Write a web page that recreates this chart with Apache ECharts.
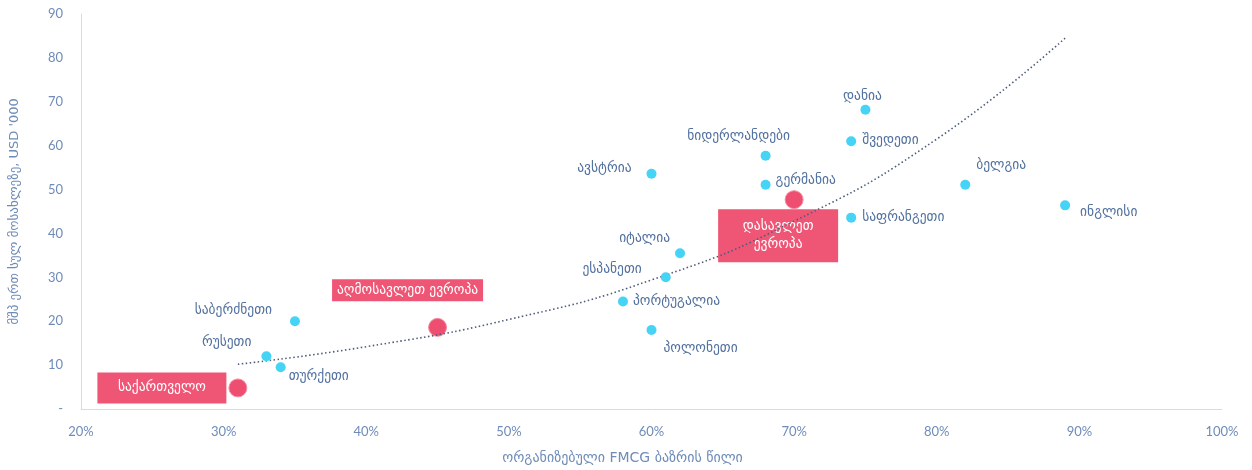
<!DOCTYPE html>
<html>
<head>
<meta charset="utf-8">
<script src="https://cdn.jsdelivr.net/npm/echarts@6/dist/echarts.min.js"></script>
<style>
  html, body { margin: 0; padding: 0; background: #fff; }
  #main { width: 1252px; height: 470px; }
</style>
</head>
<body>
<div id="main"></div>
<script>
// ქვეყნები (ცისფერი წერტილები)
const countryNames = ['დანია', 'შვედეთი', 'ნიდერლანდები', 'ავსტრია', 'გერმანია', 'ბელგია', 'საფრანგეთი',
  'ინგლისი', 'იტალია', 'ესპანეთი', 'პორტუგალია', 'პოლონეთი', 'საბერძნეთი', 'რუსეთი', 'თურქეთი'];
const countryShare = [75, 74, 68, 60, 68, 82, 74, 89, 62, 61, 58, 60, 35, 33, 34];
const countryGdp = [68.2, 61, 57.7, 53.6, 51.1, 51.1, 43.6, 46.4, 35.5, 30, 24.5, 18, 20, 12, 9.5];

// რეგიონები (წითელი წერტილები)
const regionNames = ['საქართველო', 'აღმოსავლეთ ევროპა', 'დასავლეთ ევროპა'];
const regionShare = [31, 45, 70];
const regionGdp = [4.8, 18.6, 47.7];

// ტრენდის ხაზი (სურათიდან წაკითხული წერტილები)
const trendShare = [31, 40, 50, 60, 70, 80, 89];
const trendGdp = [10.2, 14.2, 20.4, 29.4, 42.8, 61.5, 84.5];

const xTicks = [20, 30, 40, 50, 60, 70, 80, 90, 100];

const labelColor = '#52719f';
const axisColor = '#6f8cb8';
const boxColor = '#ef5575';
const textFont = 'DejaVu Sans';

// ლეიბლების განლაგება [align, dx, dy]
const countryLabelPlace = {
  'დანია': ['center', -3, -13],
  'შვედეთი': ['left', 11, -1],
  'ნიდერლანდები': ['center', -27, -19],
  'ავსტრია': ['right', -20, -5],
  'გერმანია': ['left', 10, -4],
  'ბელგია': ['left', 11, -19],
  'საფრანგეთი': ['left', 11, 0],
  'ინგლისი': ['left', 15, 7],
  'იტალია': ['right', -10, -15],
  'ესპანეთი': ['right', -24, -8],
  'პორტუგალია': ['left', 10, 0],
  'პოლონეთი': ['left', 12, 18],
  'საბერძნეთი': ['right', -23, -11],
  'რუსეთი': ['right', -15, -14],
  'თურქეთი': ['left', 8, 9]
};

// წითელი ყუთები [dx, dy, width, height, text]
const regionBox = {
  'საქართველო': [-76, 0, 129, 31, 'საქართველო'],
  'აღმოსავლეთ ევროპა': [-30, -37, 151, 22, 'აღმოსავლეთ ევროპა'],
  'დასავლეთ ევროპა': [-16, 36, 120, 53, 'დასავლეთ\nევროპა']
};

const countryData = countryNames.map((name, i) => {
  const p = countryLabelPlace[name];
  return {
    name: name,
    value: [countryShare[i], countryGdp[i]],
    label: {
      show: true,
      position: 'inside',
      align: p[0],
      verticalAlign: 'middle',
      offset: [p[1], p[2]],
      formatter: '{b}',
      color: labelColor,
      fontSize: 13.5,
      fontFamily: textFont
    }
  };
});

const regionData = regionNames.map((name, i) => {
  const b = regionBox[name];
  const lines = b[4].split('\n').length;
  const lh = lines > 1 ? 18 : b[3];
  const padV = (b[3] - lh * lines) / 2;
  return {
    name: name,
    value: [regionShare[i], regionGdp[i]],
    label: {
      show: true,
      position: 'inside',
      align: 'center',
      verticalAlign: 'middle',
      offset: [b[0], b[1]],
      formatter: () => b[4],
      color: '#fff',
      fontSize: 13.5,
      fontFamily: textFont,
      backgroundColor: boxColor,
      width: b[2],
      lineHeight: lh,
      padding: [padV, 0, padV, 0]
    }
  };
});

const chart = echarts.init(document.getElementById('main'), null, { renderer: 'canvas' });

const option = {
  animation: false,
  grid: {
    left: 81,
    right: 30,
    top: 14,
    bottom: 60
  },
  xAxis: {
    type: 'value',
    min: 20,
    max: 100,
    interval: 10,
    name: 'ორგანიზებული FMCG ბაზრის წილი',
    nameLocation: 'middle',
    nameGap: 42,
    nameTextStyle: {
      color: axisColor,
      fontSize: 14,
      fontFamily: textFont,
      padding: [0, 58, 0, 0]
    },
    axisLine: { show: true, lineStyle: { color: '#d3dde9', width: 1 } },
    axisTick: { show: false },
    splitLine: { show: false },
    axisLabel: {
      color: axisColor,
      fontSize: 13,
      fontFamily: 'Lato',
      margin: 16,
      formatter: v => xTicks.includes(v) ? v + '%' : ''
    }
  },
  yAxis: {
    type: 'value',
    min: 0,
    max: 90,
    interval: 10,
    name: "მშპ ერთ სულ მოსახლეზე, USD '000",
    nameLocation: 'middle',
    nameGap: 60,
    nameTextStyle: {
      color: axisColor,
      fontSize: 13,
      fontFamily: textFont
    },
    axisLine: { show: true, lineStyle: { color: '#d3dde9', width: 1 } },
    axisTick: { show: false },
    splitLine: { show: false },
    axisLabel: {
      color: axisColor,
      fontSize: 13,
      fontFamily: 'Lato',
      margin: 18,
      formatter: v => v === 0 ? '-' : String(v)
    }
  },
  series: [
    {
      name: 'რეგიონები',
      type: 'scatter',
      z: 2,
      symbolSize: 18,
      itemStyle: { color: '#ee4f71', borderColor: '#f58ea5', borderWidth: 1, opacity: 1 },
      data: regionData
    },
    {
      name: 'ტრენდი',
      type: 'line',
      z: 3,
      smooth: true,
      symbol: 'none',
      lineStyle: { color: '#4d5c7c', width: 1.6, type: [1.5, 2.5] },
      data: trendShare.map((x, i) => [x, trendGdp[i]])
    },
    {
      name: 'ქვეყნები',
      type: 'scatter',
      z: 4,
      symbolSize: 10,
      itemStyle: { color: '#45d3f6', opacity: 1 },
      data: countryData
    }
  ]
};

chart.setOption(option);
</script>
</body>
</html>
